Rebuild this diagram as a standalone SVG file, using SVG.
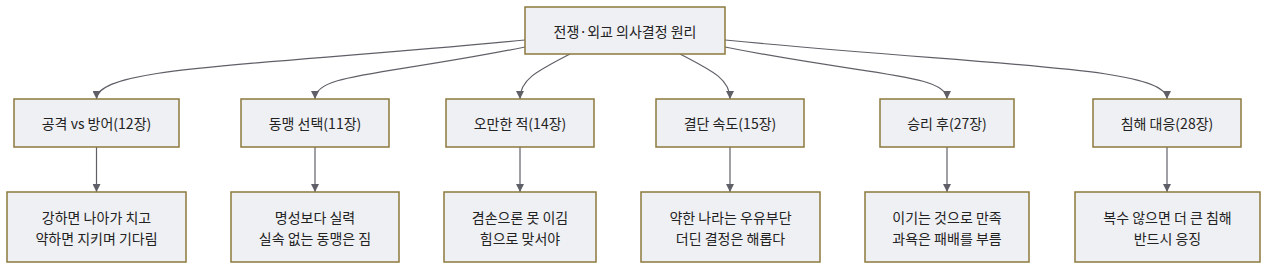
<svg xmlns="http://www.w3.org/2000/svg" width="1280" height="272" viewBox="0 0 1280 272">
  <defs>
    <marker id="arrow" viewBox="0 0 10 10" refX="10" refY="5" markerWidth="8" markerHeight="8" markerUnits="userSpaceOnUse" orient="auto">
      <path d="M0,0 L10,5 L0,10 z" fill="#5f5f68"/>
    </marker>
    <style>
      .box { fill: #eff0f4; stroke: #8c7a3c; stroke-width: 1.5; }
      .lbl { font-family: "Noto Sans CJK KR", "Noto Sans", sans-serif; font-size: 14px; fill: #222; text-anchor: middle; dominant-baseline: central; }
      .edge { fill: none; stroke: #5f5f68; stroke-width: 1.2; marker-end: url(#arrow); }
    </style>
  </defs>
  <rect width="1280" height="272" fill="#ffffff"/>

  <g id="connectors">
    <path class="edge" d="M525,40 C 260,66 96.5,66 96.5,99"/>
    <path class="edge" d="M525,47 C 380,76 315,74 315,99"/>
    <path class="edge" d="M570,54 C 535,72 520,80 520,99"/>
    <path class="edge" d="M680,54 C 715,72 730,80 730,99"/>
    <path class="edge" d="M725,47 C 870,76 947,74 947,99"/>
    <path class="edge" d="M725,40 C 990,66 1167,66 1167,99"/>
    <path class="edge" d="M96.5,147 L96.5,192"/>
    <path class="edge" d="M315,147 L315,192"/>
    <path class="edge" d="M520,147 L520,192"/>
    <path class="edge" d="M730,147 L730,192"/>
    <path class="edge" d="M947,147 L947,192"/>
    <path class="edge" d="M1167,147 L1167,192"/>
  </g>

  <g id="root">
    <rect class="box" x="525" y="7" width="200" height="47"/>
    <text class="lbl" x="625" y="31">전쟁·외교 의사결정 원리</text>
  </g>

  <g id="n1">
    <rect class="box" x="14" y="99" width="165" height="48"/>
    <text class="lbl" x="96.5" y="123">공격 vs 방어(12장)</text>
  </g>
  <g id="n2">
    <rect class="box" x="241" y="99" width="148" height="48"/>
    <text class="lbl" x="315" y="123">동맹 선택(11장)</text>
  </g>
  <g id="n3">
    <rect class="box" x="446" y="99" width="148" height="48"/>
    <text class="lbl" x="520" y="123">오만한 적(14장)</text>
  </g>
  <g id="n4">
    <rect class="box" x="656" y="99" width="148" height="48"/>
    <text class="lbl" x="730" y="123">결단 속도(15장)</text>
  </g>
  <g id="n5">
    <rect class="box" x="880" y="99" width="134" height="48"/>
    <text class="lbl" x="947" y="123">승리 후(27장)</text>
  </g>
  <g id="n6">
    <rect class="box" x="1093" y="99" width="148" height="48"/>
    <text class="lbl" x="1167" y="123">침해 대응(28장)</text>
  </g>

  <g id="d1">
    <rect class="box" x="7" y="192" width="179" height="70"/>
    <text class="lbl" x="96.5" y="216.5">강하면 나아가 치고</text>
    <text class="lbl" x="96.5" y="237.5">약하면 지키며 기다림</text>
  </g>
  <g id="d2">
    <rect class="box" x="231" y="192" width="168" height="70"/>
    <text class="lbl" x="315" y="216.5">명성보다 실력</text>
    <text class="lbl" x="315" y="237.5">실속 없는 동맹은 짐</text>
  </g>
  <g id="d3">
    <rect class="box" x="444" y="192" width="152" height="70"/>
    <text class="lbl" x="520" y="216.5">겸손으론 못 이김</text>
    <text class="lbl" x="520" y="237.5">힘으로 맞서야</text>
  </g>
  <g id="d4">
    <rect class="box" x="641" y="192" width="179" height="70"/>
    <text class="lbl" x="730.5" y="216.5">약한 나라는 우유부단</text>
    <text class="lbl" x="730.5" y="237.5">더딘 결정은 해롭다</text>
  </g>
  <g id="d5">
    <rect class="box" x="865" y="192" width="164" height="70"/>
    <text class="lbl" x="947" y="216.5">이기는 것으로 만족</text>
    <text class="lbl" x="947" y="237.5">과욕은 패배를 부름</text>
  </g>
  <g id="d6">
    <rect class="box" x="1075" y="192" width="185" height="70"/>
    <text class="lbl" x="1167.5" y="216.5">복수 않으면 더 큰 침해</text>
    <text class="lbl" x="1167.5" y="237.5">반드시 응징</text>
  </g>
</svg>
